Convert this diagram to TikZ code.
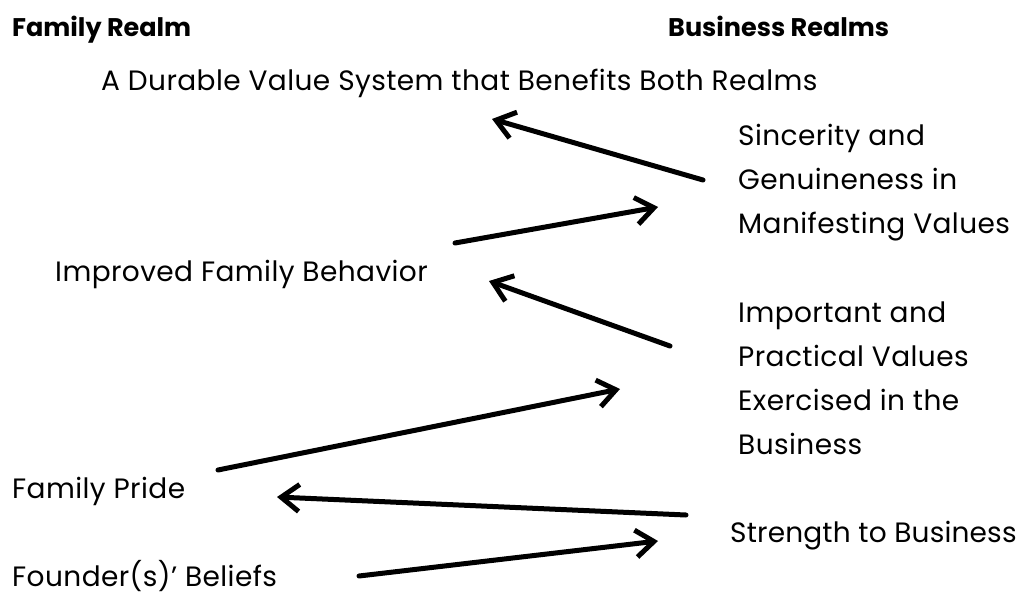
\documentclass[tikz,border=0pt]{standalone}
\usepackage{fontspec}
\setmainfont{Poppins}
\usetikzlibrary{arrows.meta}
\begin{document}
\begin{tikzpicture}[x=1pt,y=-1pt,
  lbl/.style={anchor=base west,inner sep=0pt,
    font=\fontsize{28}{32}\selectfont\addfontfeatures{LetterSpace=1.5},text=black},
  tight/.style={font=\fontsize{28}{32}\selectfont\addfontfeatures{LetterSpace=0.6}},
  head/.style={anchor=base west,inner sep=0pt,
    font=\fontsize{25.5}{30}\selectfont\bfseries,text=black},
  link/.style={line width=5pt,line cap=round,line join=round,
    -{Straight Barb[length=18pt,width=27pt,line width=5pt]}}]
\useasboundingbox[fill=white] (0,0) rectangle (1019,594);
% column headings
\node[head] (fam) at (12,37) {Family Realm};
\node[head] (bus) at (668,37) {Business Realms};
% family side
\node[lbl] (durable) at (101,90) {A Durable Value System that Benefits Both Realms};
\node[lbl] (behav) at (55,281) {Improved Family Behavior};
\node[lbl] (pride) at (12,498) {Family Pride};
\node[lbl] (found) at (12,586) {Founder(s)' Beliefs};
% business side
\node[lbl] (sinc1) at (738,145) {Sincerity and};
\node[lbl] (sinc2) at (738,189) {Genuineness in};
\node[lbl] (sinc3) at (738,233) {Manifesting Values};
\node[lbl] (imp1) at (738,322) {Important and};
\node[lbl] (imp2) at (738,366) {Practical Values};
\node[lbl] (imp3) at (738,410) {Exercised in the};
\node[lbl] (imp4) at (738,454) {Business};
\node[lbl,tight] (str) at (730,542) {Strength to Business};
% connector end points
\coordinate (a1s) at (703,180); \coordinate (a1e) at (492,119);
\coordinate (a2s) at (455,243); \coordinate (a2e) at (658,207);
\coordinate (a3s) at (670,346); \coordinate (a3e) at (489,281);
\coordinate (a4s) at (218,470); \coordinate (a4e) at (620,389);
\coordinate (a5s) at (686,515); \coordinate (a5e) at (277,497);
\coordinate (a6s) at (359,576); \coordinate (a6e) at (658,541);
\draw[link] (a1s) -- (a1e);
\draw[link] (a2s) -- (a2e);
\draw[link] (a3s) -- (a3e);
\draw[link] (a4s) -- (a4e);
\draw[link] (a5s) -- (a5e);
\draw[link] (a6s) -- (a6e);
\end{tikzpicture}
\end{document}
